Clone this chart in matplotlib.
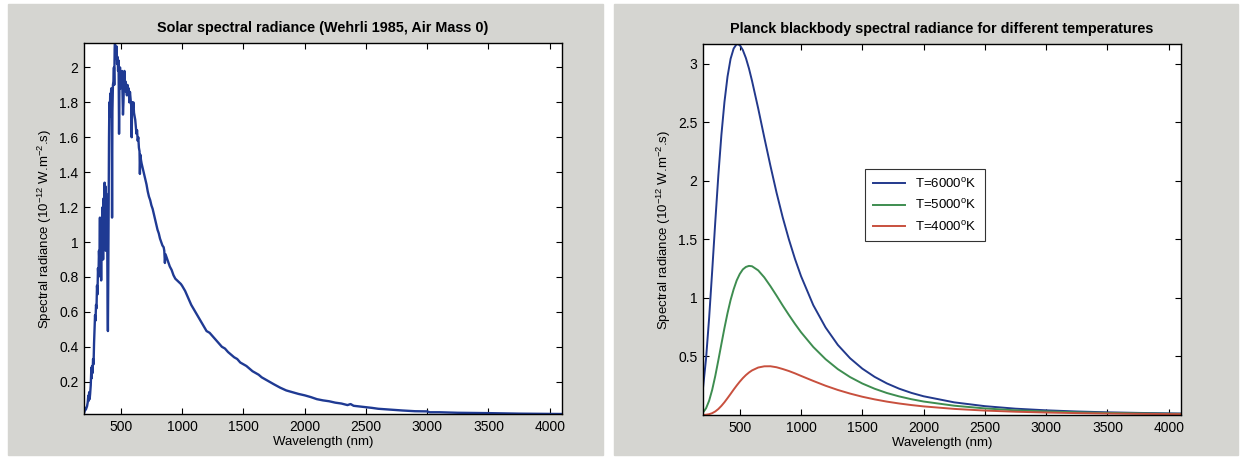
import numpy as np
import matplotlib
matplotlib.use("Agg")
import matplotlib.pyplot as plt
from matplotlib.patches import Rectangle

# solar spectrum (nm, 10^-12 W.m^-2.s)
solar_wl = [200, 205, 210, 215, 220, 225, 230, 235, 238, 242, 246, 250, 255, 260, 263, 266, 270, 274,
            278, 282, 286, 290, 294, 298, 302, 306, 310, 314, 318, 322, 326, 330, 333, 336, 340, 344,
            348, 352, 356, 360, 364, 368, 371, 374, 377, 380, 384, 388, 392, 395, 398, 401, 404, 407,
            410, 414, 418, 422, 426, 429, 432, 436, 440, 444, 447, 450, 453, 456, 459, 462, 466, 470,
            474, 478, 482, 486, 490, 494, 498, 502, 506, 510, 514, 518, 522, 526, 530, 534, 538, 542,
            546, 550, 555, 560, 565, 570, 575, 580, 585, 589, 593, 598, 603, 608, 613, 618, 623, 628,
            633, 638, 643, 648, 653, 656, 660, 665, 670, 680, 690, 700, 710, 720, 730, 740, 750, 760,
            770, 780, 790, 800, 810, 820, 830, 840, 850, 855, 860, 865, 870, 880, 890, 900, 915, 930,
            945, 960, 975, 990, 1000, 1025, 1050, 1075, 1100, 1125, 1150, 1175, 1200, 1225, 1250,
            1275, 1300, 1325, 1350, 1375, 1400, 1425, 1450, 1475, 1500, 1525, 1550, 1575, 1600, 1625,
            1650, 1675, 1700, 1750, 1800, 1850, 1900, 1950, 2000, 2050, 2100, 2150, 2200, 2250, 2300,
            2350, 2375, 2400, 2450, 2500, 2550, 2600, 2700, 2800, 2900, 3000, 3020, 3100, 3250, 3500,
            3750, 4000, 4100]
solar_val = [0.02, 0.03, 0.05, 0.04, 0.05, 0.06, 0.08, 0.12, 0.09, 0.14, 0.10, 0.13, 0.18, 0.28, 0.22,
             0.29, 0.25, 0.33, 0.30, 0.42, 0.50, 0.58, 0.55, 0.64, 0.62, 0.75, 0.70, 0.85, 0.80, 0.95,
             0.88, 1.14, 0.85, 1.08, 0.78, 1.12, 0.95, 1.20, 0.90, 1.25, 1.05, 1.34, 1.10, 1.32, 0.95,
             1.28, 1.00, 1.20, 0.70, 0.49, 0.80, 1.25, 1.60, 1.80, 1.72, 1.85, 1.80, 1.88, 1.70, 1.14,
             1.75, 1.90, 1.92, 2.00, 1.90, 2.10, 2.14, 2.05, 2.10, 2.08, 2.12, 2.02, 2.06, 1.98, 2.04,
             1.62, 1.95, 2.00, 1.88, 1.96, 1.90, 1.98, 1.85, 1.73, 1.80, 1.92, 1.98, 1.88, 1.92, 1.86,
             1.90, 1.84, 1.90, 1.85, 1.88, 1.80, 1.86, 1.82, 1.78, 1.60, 1.80, 1.76, 1.80, 1.74, 1.72,
             1.70, 1.66, 1.62, 1.64, 1.58, 1.60, 1.54, 1.52, 1.39, 1.50, 1.47, 1.45, 1.42, 1.39, 1.36,
             1.33, 1.29, 1.26, 1.24, 1.21, 1.19, 1.16, 1.13, 1.10, 1.07, 1.05, 1.02, 1.00, 0.98, 0.97,
             0.95, 0.88, 0.93, 0.92, 0.90, 0.88, 0.86, 0.84, 0.81, 0.79, 0.78, 0.77, 0.76, 0.75, 0.72,
             0.68, 0.64, 0.61, 0.58, 0.55, 0.52, 0.49, 0.48, 0.46, 0.44, 0.42, 0.40, 0.39, 0.37, 0.355,
             0.34, 0.33, 0.31, 0.30, 0.29, 0.275, 0.26, 0.25, 0.24, 0.225, 0.215, 0.205, 0.185, 0.166,
             0.150, 0.140, 0.130, 0.122, 0.112, 0.100, 0.093, 0.088, 0.080, 0.075, 0.066, 0.072, 0.062,
             0.058, 0.054, 0.050, 0.045, 0.040, 0.035, 0.031, 0.030, 0.025, 0.025, 0.022, 0.020, 0.017,
             0.016, 0.015]

# blackbody curves
bb_wl = [200, 225, 250, 275, 300, 325, 350, 375, 400, 425, 450, 475, 500, 525, 550, 575, 600, 650,
         700, 750, 800, 850, 900, 950, 1000, 1100, 1200, 1300, 1400, 1500, 1600, 1700, 1800, 1900,
         2000, 2250, 2500, 2750, 3000, 3250, 3500, 3750, 4000, 4100]
bb_6000 = [0.23, 0.483, 0.829, 1.231, 1.648, 2.045, 2.392, 2.674, 2.891, 3.043, 3.131, 3.17, 3.161,
           3.118, 3.05, 2.961, 2.855, 2.621, 2.372, 2.130, 1.90, 1.690, 1.503, 1.335, 1.186, 0.938,
           0.748, 0.599, 0.485, 0.396, 0.326, 0.270, 0.225, 0.189, 0.160, 0.108, 0.0755, 0.054,
           0.040, 0.030, 0.0229, 0.018, 0.0141, 0.0128]
bb_5000 = [0.021, 0.0574, 0.122, 0.2155, 0.333, 0.467, 0.606, 0.743, 0.870, 0.982, 1.074, 1.150,
           1.205, 1.244, 1.265, 1.274, 1.271, 1.236, 1.176, 1.101, 1.020, 0.936, 0.856, 0.779, 0.707,
           0.581, 0.477, 0.392, 0.324, 0.269, 0.2245, 0.188, 0.159, 0.135, 0.1152, 0.0793, 0.0562,
           0.040, 0.0303, 0.0232, 0.0177, 0.0142, 0.011, 0.0098]
bb_4000 = [0.0006, 0.0023, 0.0069, 0.0157, 0.0303, 0.051, 0.0779, 0.109, 0.144, 0.180, 0.217, 0.252,
           0.285, 0.315, 0.341, 0.363, 0.381, 0.4055, 0.416, 0.4165, 0.408, 0.393, 0.376, 0.356, 0.334,
           0.291, 0.250, 0.214, 0.183, 0.156, 0.1336, 0.1144, 0.0984, 0.0849, 0.0735, 0.0521, 0.0378,
           0.028, 0.0211, 0.0162, 0.0126, 0.0101, 0.0079, 0.0072]
bb_labels = ["T=6000$^{\\mathrm{o}}$K", "T=5000$^{\\mathrm{o}}$K", "T=4000$^{\\mathrm{o}}$K"]
bb_colors = ["#22398c", "#3e8d50", "#c8503e"]

x_ticks = [500, 1000, 1500, 2000, 2500, 3000, 3500, 4000]
left_yticks = [0.2, 0.4, 0.6, 0.8, 1, 1.2, 1.4, 1.6, 1.8, 2]
left_ylabels = ["0.2", "0.4", "0.6", "0.8", "1", "1.2", "1.4", "1.6", "1.8", "2"]
right_yticks = [0.5, 1, 1.5, 2, 2.5, 3]
right_ylabels = ["0.5", "1", "1.5", "2", "2.5", "3"]

plt.rcParams["font.family"] = ["Liberation Sans", "DejaVu Sans"]
plt.rcParams["mathtext.fontset"] = "custom"
plt.rcParams["mathtext.rm"] = "Liberation Sans"
GRAY = "#d5d5d1"
YLABEL = "Spectral radiance (10$^{\\mathrm{-12}}$ W.m$^{\\mathrm{-2}}$.s)"

fig = plt.figure(figsize=(12.44, 4.59), dpi=100)
fig.patches.append(Rectangle((8 / 1244, 4 / 459), 595 / 1244, 451 / 459,
                             transform=fig.transFigure, color=GRAY, zorder=-5))
fig.patches.append(Rectangle((614 / 1244, 4 / 459), 624 / 1244, 451 / 459,
                             transform=fig.transFigure, color=GRAY, zorder=-5))


def style_axes(ax):
    ax.set_zorder(2)
    ax.set_xlim(200, 4100)
    ax.set_xticks(x_ticks)
    ax.tick_params(direction="in", top=True, right=True, length=4, width=0.8,
                   labelsize=10, pad=4)
    for s in ax.spines.values():
        s.set_linewidth(1.0)
    ax.set_xlabel("Wavelength (nm)", fontsize=9.5, labelpad=2)
    ax.set_ylabel(YLABEL, fontsize=9.5, labelpad=4)


ax1 = fig.add_axes([84 / 1244, 45 / 459, 478 / 1244, 371 / 459])
ax1.plot(solar_wl, solar_val, color="#1f3a93", lw=1.7)
style_axes(ax1)
ax1.set_ylim(0.015, 2.14)
ax1.set_yticks(left_yticks)
ax1.set_yticklabels(left_ylabels)
ax1.set_title("Solar spectral radiance (Wehrli 1985, Air Mass 0)", fontsize=10.4,
              fontweight="bold", pad=8)

ax2 = fig.add_axes([703 / 1244, 44 / 459, 478 / 1244, 371 / 459])
for vals, lab, col in zip([bb_6000, bb_5000, bb_4000], bb_labels, bb_colors):
    ax2.plot(bb_wl, vals, color=col, lw=1.4, label=lab)
style_axes(ax2)
ax2.set_ylim(0, 3.17)
ax2.set_yticks(right_yticks)
ax2.set_yticklabels(right_ylabels)
ax2.set_title("Planck blackbody spectral radiance for different temperatures", fontsize=10.4,
              fontweight="bold", pad=8)
leg = ax2.legend(loc="upper left", bbox_to_anchor=(0.339, 0.663), borderaxespad=0,
                 fancybox=False, frameon=True, fontsize=9.5, handlelength=2.4,
                 borderpad=0.6, labelspacing=0.55)
leg.get_frame().set_edgecolor("black")
leg.get_frame().set_linewidth(0.8)

fig.savefig("out.png", dpi=100, facecolor="white")
